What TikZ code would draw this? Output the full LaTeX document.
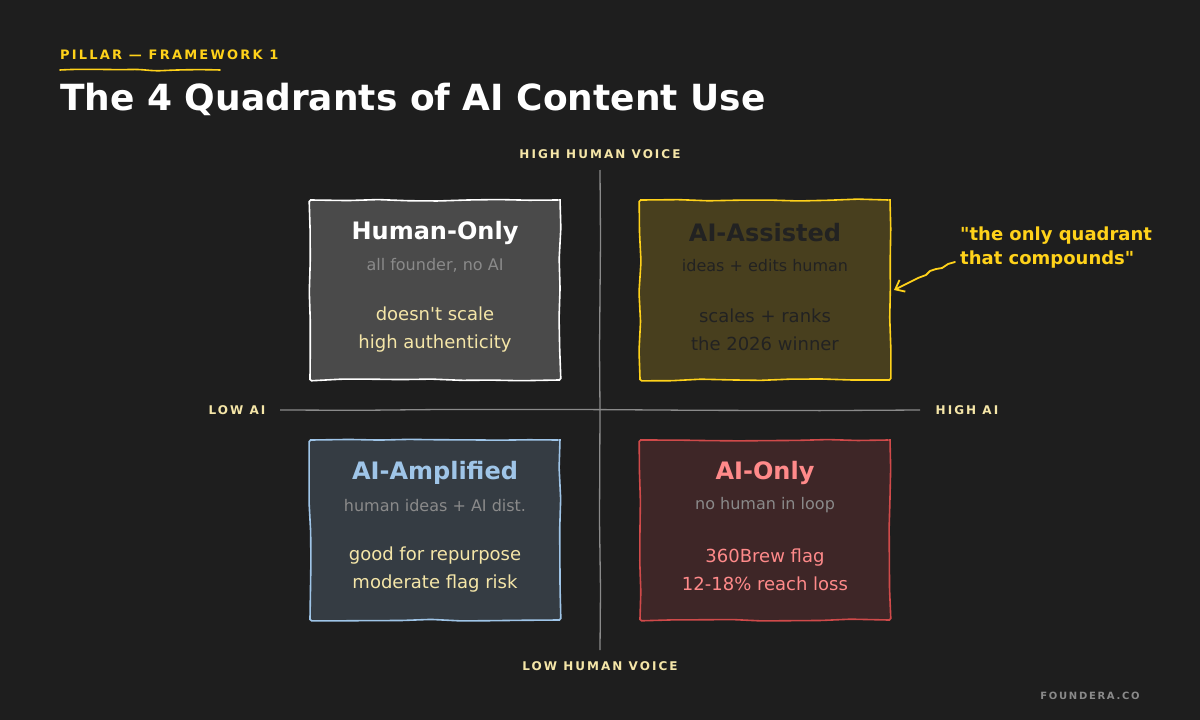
\documentclass[tikz,border=0pt]{standalone}
\usepackage{fontspec}
\setmainfont{DejaVu Sans}[Ligatures=TeXOff]
\newfontfamily\spaced[LetterSpace=17]{DejaVu Sans}
\usetikzlibrary{arrows.meta,decorations.pathmorphing}
\definecolor{bgc}{HTML}{1E1E1E}
\definecolor{gold}{HTML}{FFD21A}
\definecolor{cream}{HTML}{F5E6A8}
\definecolor{subgray}{HTML}{8A8A8A}
\definecolor{axisgray}{HTML}{8A8A8A}
\definecolor{humfill}{HTML}{4A4A4A}
\definecolor{asfill}{HTML}{483F1E}
\definecolor{ampfill}{HTML}{353C43}
\definecolor{ampblue}{HTML}{9FC5E8}
\definecolor{onlyfill}{HTML}{3E2627}
\definecolor{onlyred}{HTML}{D04A4A}
\definecolor{onlypink}{HTML}{FF8A8A}
\definecolor{darktext}{HTML}{222222}
\tikzset{
  x=1pt, y=-1pt,
  quad/.style={minimum width=250pt, minimum height=180pt, line width=1.6pt, inner sep=0pt,
    decorate, decoration={random steps, segment length=30pt, amplitude=1pt}, rounded corners=1.5pt},
  qtitle/.style={font=\bfseries\fontsize{24}{28}\selectfont, anchor=center, inner sep=0pt},
  qsub/.style={font=\fontsize{16}{19}\selectfont, text=subgray, anchor=center, inner sep=0pt},
  qbody/.style={font=\fontsize{18}{28}\selectfont, align=center, anchor=center, inner sep=0pt},
  axislabel/.style={font=\spaced\bfseries\fontsize{12}{14}\selectfont, text=cream, inner sep=0pt},
  axisline/.style={draw=axisgray, line width=1.3pt},
}
\begin{document}
\begin{tikzpicture}
\pgfmathsetseed{7}
\fill[bgc] (0,0) rectangle (1200,720);
\useasboundingbox (0,0) rectangle (1200,720);

% header
\node[anchor=west, inner sep=0pt, text=gold, font=\spaced\bfseries\fontsize{13}{15}\selectfont] (kicker) at (60,55) {PILLAR — FRAMEWORK 1};
\coordinate (ulA) at (60,70);
\coordinate (ulB) at (220,70);
\draw[gold, line width=1.6pt, line cap=round] (ulA) .. controls (85,68.5) and (110,70) .. (130,69.5) .. controls (145,69) and (150,71.5) .. (165,70.5) .. controls (185,69.5) and (205,69.5) .. (ulB);
\node[anchor=west, inner sep=0pt, text=white, font=\bfseries\fontsize{36}{42}\selectfont] (title) at (60,99) {The 4 Quadrants of AI Content Use};

% axes
\coordinate (vtop) at (600,170);
\coordinate (vbot) at (600,650);
\coordinate (hl) at (280,410);
\coordinate (hr) at (920,410);
\draw[axisline] (vtop) -- (600.5,240) -- (599.5,350) -- (600,410) -- (599.5,520) -- (600.5,590) -- (vbot);
\draw[axisline] (hl) -- (360,410.3) -- (440,409.5) -- (600,409.6) -- (700,410.3) -- (820,410.6) -- (hr);
\node[axislabel] (hhv) at (600,154) {HIGH HUMAN VOICE};
\node[axislabel] (lhv) at (600,666) {LOW HUMAN VOICE};
\node[axislabel] (lai) at (237,410) {LOW AI};
\node[axislabel] (hai) at (967,410) {HIGH AI};

% quadrants
\node[quad, draw=white, fill=humfill] (human) at (435,290) {};
\node[quad, draw=gold, fill=asfill] (assist) at (765,290) {};
\node[quad, draw=ampblue, fill=ampfill] (amp) at (435,530) {};
\node[quad, draw=onlyred, fill=onlyfill] (only) at (765,530) {};

\node[qtitle, text=white] (humanT) at (435,233) {Human-Only};
\node[qsub] (humanS) at (435,265.5) {all founder, no AI};
\node[qbody, text=cream] (humanB) at (435,329.5) {doesn't scale\\high authenticity};

\node[qtitle, text=darktext] (assistT) at (765,233) {AI-Assisted};
\node[qsub, text=darktext] (assistS) at (765,265.5) {ideas + edits human};
\node[qbody, text=darktext] (assistB) at (765,329.5) {scales + ranks\\the 2026 winner};

\node[qtitle, text=ampblue] (ampT) at (435,473) {AI-Amplified};
\node[qsub] (ampS) at (435,505.5) {human ideas + AI dist.};
\node[qbody, text=cream] (ampB) at (435,569.5) {good for repurpose\\moderate flag risk};

\node[qtitle, text=onlypink] (onlyT) at (765,473) {AI-Only};
\node[qsub] (onlyS) at (765,505.5) {no human in loop};
\node[qbody, text=onlypink] (onlyB) at (765,569.5) {360Brew flag\\12-18\% reach loss};

% annotation
\node[anchor=west, align=left, inner sep=0pt, text=gold, font=\bfseries\fontsize{18}{24}\selectfont] (note) at (960,248) {"the only quadrant\\that compounds"};
\coordinate (arS) at (955,262);
\coordinate (arE) at (894,290);
\draw[gold, line width=1.8pt, line cap=round, line join=round, -{Straight Barb[length=8pt,width=13pt]}]
  (arS) -- (948,264) -- (942,268) -- (936,269) -- (930,271) -- (926,275) -- (918,278) -- (910,282) -- (902,286) -- (arE);

% footer
\node[inner sep=0pt, text=subgray, font=\spaced\bfseries\fontsize{10}{12}\selectfont] (foot) at (1090,696) {FOUNDERA.CO};
\end{tikzpicture}
\end{document}
